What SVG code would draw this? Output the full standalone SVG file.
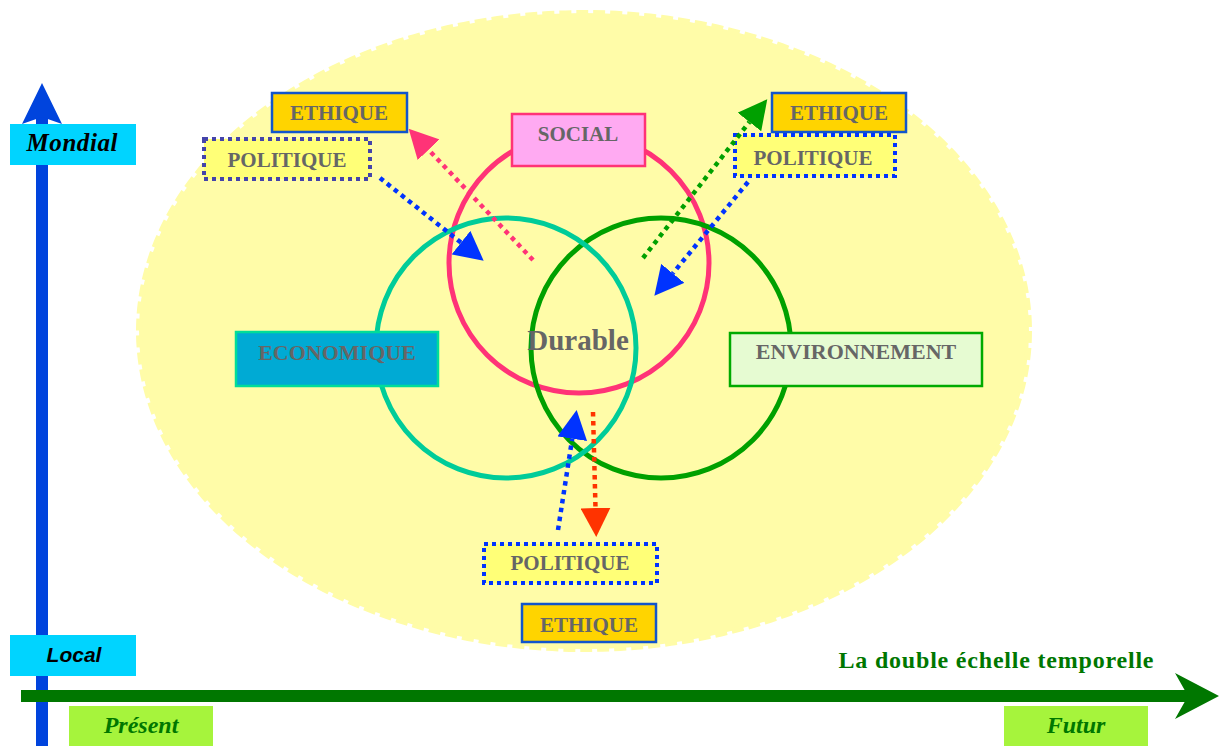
<svg xmlns="http://www.w3.org/2000/svg" width="1219" height="746" viewBox="0 0 1219 746">
<style>
.lbl{font-family:"Liberation Serif","Times New Roman",serif;font-weight:bold;font-size:21px;fill:#666666;text-anchor:middle}
.eth{fill:#FFD400;stroke:#1155CC;stroke-width:2.5}
.pol{fill:#FFFF77;stroke-width:4;stroke-dasharray:4 4}
.dot{fill:none;stroke-width:4.5;stroke-dasharray:4.5 4.5}
.axis{font-family:"Liberation Serif","Times New Roman",serif;font-weight:bold;font-style:italic;font-size:24px;text-anchor:middle}
</style>
<defs>
<marker id="hPink" viewBox="0 -15 29 30" markerWidth="29" markerHeight="30" refX="0" refY="0" markerUnits="userSpaceOnUse" orient="auto"><path d="M0,-15 L29,0 L0,15 z" fill="#FF3377"/></marker>
<marker id="hBlue" viewBox="0 -15 29 30" markerWidth="29" markerHeight="30" refX="0" refY="0" markerUnits="userSpaceOnUse" orient="auto"><path d="M0,-15 L29,0 L0,15 z" fill="#0033FF"/></marker>
<marker id="hGreen" viewBox="0 -15 29 30" markerWidth="29" markerHeight="30" refX="0" refY="0" markerUnits="userSpaceOnUse" orient="auto"><path d="M0,-15 L29,0 L0,15 z" fill="#00A000"/></marker>
<marker id="hRed" viewBox="0 -15 29 30" markerWidth="29" markerHeight="30" refX="0" refY="0" markerUnits="userSpaceOnUse" orient="auto"><path d="M0,-15 L29,0 L0,15 z" fill="#FF3300"/></marker>
</defs>
<rect width="1219" height="746" fill="#FFFFFF"/>
<g id="background">
<ellipse cx="584" cy="331" rx="445" ry="318" fill="#FFFCA8" stroke="#FFFCA8" stroke-width="6" stroke-dasharray="12 5"/>
</g>
<g id="circles">
<circle id="c-social" cx="579" cy="263" r="130" fill="none" stroke="#FF3377" stroke-width="5"/>
<circle id="c-env" cx="661" cy="348" r="130" fill="none" stroke="#00A000" stroke-width="5"/>
<circle id="c-eco" cx="506" cy="348" r="130" fill="none" stroke="#00CC99" stroke-width="5"/>
</g>
<g id="axes">
<rect x="36" y="115" width="12" height="631" fill="#0044DD"/>
<polygon points="42,83 22,124 42,117 62,124" fill="#0044DD"/>
<rect x="21" y="690" width="1168" height="12" fill="#007700"/>
<polygon points="1175,673 1219,696 1175,719 1188,696" fill="#007700"/>
</g>
<g id="node-mondial"><rect x="10" y="124" width="126" height="41" fill="#00D4FF"/><text class="axis" x="72" y="151" style="font-size:25px" fill="#000000" textLength="91">Mondial</text></g>
<g id="node-local"><rect x="10" y="635" width="126" height="41" fill="#00D4FF"/><text x="74" y="662" font-family="Liberation Sans, Arial, sans-serif" font-weight="bold" font-style="italic" font-size="21" text-anchor="middle" fill="#000000">Local</text></g>
<g id="node-present"><rect x="69" y="706" width="144" height="40" fill="#A6F43C"/><text class="axis" x="141" y="733" fill="#007700">Présent</text></g>
<g id="node-futur"><rect x="1004" y="706" width="144" height="40" fill="#A6F43C"/><text class="axis" x="1076" y="733" fill="#007700">Futur</text></g>
<g id="title"><text x="996" y="668" font-family="Liberation Serif, Times New Roman, serif" font-weight="bold" font-size="24" text-anchor="middle" fill="#007700" textLength="315">La double échelle temporelle</text></g>
<g id="node-social"><rect x="512" y="114" width="133" height="52" fill="#FFAAF2" stroke="#FF3377" stroke-width="2.5"/><text class="lbl" x="578" y="141">SOCIAL</text></g>
<g id="node-economique"><rect x="236" y="332" width="202" height="54" fill="#00AAD4" stroke="#00DD99" stroke-width="2.5"/><text class="lbl" x="337" y="360" style="font-size:22px">ECONOMIQUE</text></g>
<g id="node-environnement"><rect x="730" y="333" width="252" height="53" fill="#E6FBD2" stroke="#00AA00" stroke-width="2.5"/><text class="lbl" x="856" y="359" style="font-size:22px">ENVIRONNEMENT</text></g>
<g id="node-durable"><text class="lbl" x="578" y="350" style="font-size:29px">Durable</text></g>
<g id="node-ethique-tl"><rect class="eth" x="272" y="93" width="135" height="39"/><text class="lbl" x="339" y="120">ETHIQUE</text></g>
<g id="node-politique-tl"><rect class="pol" x="204" y="139" width="166" height="40" stroke="#4444AA"/><text class="lbl" x="287" y="167">POLITIQUE</text></g>
<g id="node-ethique-tr"><rect class="eth" x="772" y="93" width="134" height="39"/><text class="lbl" x="839" y="120">ETHIQUE</text></g>
<g id="node-politique-tr"><rect class="pol" x="735" y="135" width="160" height="41" stroke="#0033FF"/><text class="lbl" x="813" y="165">POLITIQUE</text></g>
<g id="node-politique-b"><rect class="pol" x="484" y="544" width="173" height="39" stroke="#0033FF"/><text class="lbl" x="570" y="570">POLITIQUE</text></g>
<g id="node-ethique-b"><rect class="eth" x="522" y="604" width="134" height="38"/><text class="lbl" x="589" y="632">ETHIQUE</text></g>
<g id="connectors">
<line class="dot" x1="533" y1="260" x2="428.6" y2="149.8" stroke="#FF3377" marker-end="url(#hPink)"/>
<line class="dot" x1="380" y1="178" x2="461" y2="242.6" stroke="#0033FF" marker-end="url(#hBlue)"/>
<line class="dot" x1="643" y1="258" x2="749.4" y2="122" stroke="#00A000" marker-end="url(#hGreen)"/>
<line class="dot" x1="748" y1="182" x2="672.8" y2="273.4" stroke="#0033FF" marker-end="url(#hBlue)"/>
<line class="dot" x1="558" y1="530" x2="572.2" y2="438.7" stroke="#0033FF" marker-end="url(#hBlue)"/>
<line class="dot" x1="593" y1="412" x2="595.5" y2="508" stroke="#FF3300" marker-end="url(#hRed)"/>
</g>
</svg>
